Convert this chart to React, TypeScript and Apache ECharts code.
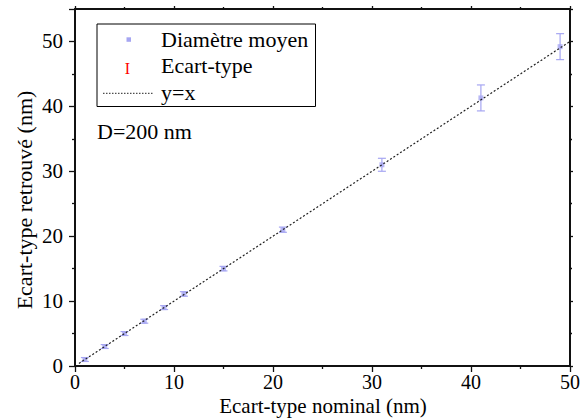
import React, { useEffect, useRef } from "react";
import * as echarts from "echarts";

const nominal = [1, 3, 5, 7, 9, 11, 15, 21, 31, 41, 49];
const retrieved = [1.0, 3.0, 5.0, 6.9, 9.0, 11.1, 15.0, 21.0, 31.0, 41.3, 49.2];
const stdDev = [0.3, 0.3, 0.3, 0.3, 0.3, 0.35, 0.35, 0.4, 1.0, 2.0, 2.0];
const identityLine = [[0.4, 0.4], [50, 50]];
const legendLabels = ["Diamètre moyen", "Ecart-type", "y=x"];
const annotation = "D=200 nm";
const xTitle = "Ecart-type nominal (nm)";
const yTitle = "Ecart-type retrouvé (nm)";

const FONT = "Liberation Serif";
const BLUE = "#a6a6f2";

export default function App() {
  const ref = useRef<HTMLDivElement>(null);
  useEffect(() => {
    const chart = echarts.init(ref.current!, null, { renderer: "svg" });
    const axisCommon = {
      axisLine: { show: true, onZero: false, lineStyle: { color: "#111", width: 2 } },
      axisTick: { show: true, inside: false, length: 6, lineStyle: { color: "#111", width: 1.3 } },
      minorTick: { show: true, splitNumber: 2, length: 3, lineStyle: { color: "#111", width: 1.3 } },
      splitLine: { show: false },
    };
    const errData = nominal.map((x, i) => [x, retrieved[i] - stdDev[i], retrieved[i] + stdDev[i]]);
    chart.setOption({
      animation: false,
      textStyle: { fontFamily: FONT },
      grid: { left: 75, right: 17, top: 9, bottom: 52, containLabel: false, outerBoundsMode: "none" },
      xAxis: [
        {
          type: "value", min: 0, max: 50, interval: 10, position: "bottom",
          ...axisCommon,
          axisLabel: { color: "#000", fontFamily: FONT, fontSize: 20, margin: 6, lineHeight: 20 },
        },
        {
          type: "value", min: 0, max: 50, interval: 10, position: "top",
          ...axisCommon,
          axisTick: { ...axisCommon.axisTick, length: 3 },
          minorTick: { ...axisCommon.minorTick, length: 2 },
          axisLabel: { show: false },
        },
      ],
      yAxis: [
        {
          type: "value", min: 0, max: 55, interval: 10, position: "left",
          ...axisCommon,
          axisLabel: { color: "#000", fontFamily: FONT, fontSize: 21, margin: 12, showMaxLabel: false },
        },
        {
          type: "value", min: 0, max: 55, interval: 10, position: "right",
          ...axisCommon,
          axisTick: { ...axisCommon.axisTick, length: 3 },
          minorTick: { ...axisCommon.minorTick, length: 2 },
          axisLabel: { show: false },
        },
      ],
      series: [
        {
          type: "line",
          data: identityLine,
          xAxisIndex: 0, yAxisIndex: 0,
          symbol: "none",
          lineStyle: { color: "#222", width: 1.2, type: [2, 2] },
          z: 3,
        },
        {
          type: "custom",
          xAxisIndex: 0, yAxisIndex: 0,
          data: errData,
          renderItem: (params: any, api: any) => {
            const x = api.value(0);
            const lo = api.coord([x, api.value(1)]);
            const hi = api.coord([x, api.value(2)]);
            const w = 4;
            const style = { stroke: BLUE, lineWidth: 1.2 };
            return {
              type: "group",
              children: [
                { type: "line", shape: { x1: lo[0], y1: lo[1], x2: hi[0], y2: hi[1] }, style },
                { type: "line", shape: { x1: lo[0] - w, y1: lo[1], x2: lo[0] + w, y2: lo[1] }, style },
                { type: "line", shape: { x1: hi[0] - w, y1: hi[1], x2: hi[0] + w, y2: hi[1] }, style },
              ],
            };
          },
          z: 2,
        },
        {
          type: "scatter",
          xAxisIndex: 0, yAxisIndex: 0,
          data: nominal.map((x, i) => [x, retrieved[i]]),
          symbol: "rect",
          symbolSize: 5,
          itemStyle: { color: BLUE },
          z: 2,
        },
      ],
      graphic: [
        {
          type: "text",
          x: 323, y: 406,
          style: { text: xTitle, fill: "#000", fontFamily: FONT, fontSize: 21, lineHeight: 21, align: "center", verticalAlign: "middle" },
          z: 11,
        },
        {
          type: "text",
          x: 24, y: 200, rotation: Math.PI / 2,
          style: { text: yTitle, fill: "#000", fontFamily: FONT, fontSize: 22, align: "center", verticalAlign: "middle" },
          z: 11,
        },
        {
          type: "rect",
          shape: { x: 97, y: 24, width: 218.5, height: 82.5 },
          style: { fill: "#fff", stroke: "#000", lineWidth: 1 },
          z: 10,
        },
        {
          type: "rect",
          shape: { x: 126.5, y: 37.3, width: 4.5, height: 4.5 },
          style: { fill: BLUE },
          z: 11,
        },
        {
          type: "text",
          x: 127.5, y: 68.5,
          style: { text: "I", fill: "#ff0000", fontFamily: FONT, fontSize: 16, align: "center", verticalAlign: "middle" },
          z: 11,
        },
        {
          type: "line",
          shape: { x1: 103, y1: 93.3, x2: 153, y2: 93.3 },
          style: { stroke: "#222", lineWidth: 1, lineDash: [1.5, 1.5] },
          z: 11,
        },
        ...legendLabels.map((t, i) => ({
          type: "text",
          x: 161, y: 39.5 + i * 26.3,
          style: { text: t, fill: "#000", fontFamily: FONT, fontSize: 22, verticalAlign: "middle" },
          z: 11,
        })),
        {
          type: "text",
          x: 97, y: 131,
          style: { text: annotation, fill: "#000", fontFamily: FONT, fontSize: 22, verticalAlign: "middle" },
          z: 11,
        },
      ],
    });
    return () => chart.dispose();
  }, []);
  return <div ref={ref} style={{ width: 587, height: 418, position: "absolute", left: 0, top: 0 }} />;
}
